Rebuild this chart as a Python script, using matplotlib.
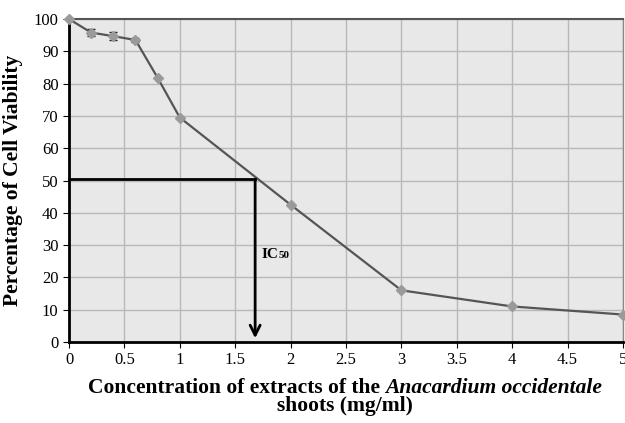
import matplotlib
matplotlib.use('Agg')
import matplotlib.pyplot as plt

conc = [0, 0.2, 0.4, 0.6, 0.8, 1, 2, 3, 4, 5]
viability = [100, 95.8, 94.7, 93.5, 81.8, 69.5, 42.5, 16.0, 11.0, 8.5]
err = [0, 1.0, 1.3, 0.6, 0, 0, 0, 0, 0, 0]
ic50_x = 1.68
ic50_y = 50.5

plt.rcParams['font.family'] = 'Liberation Serif'

fig = plt.figure(figsize=(6.25, 4.23), dpi=100)
ax = fig.add_axes([0.1104, 0.1915, 0.8864, 0.7635])
ax.set_facecolor('#e8e8e8')

ax.errorbar(conc, viability, yerr=err, color='#555555', lw=1.6,
            marker='D', ms=5, mfc='#9a9a9a', mec='#9a9a9a',
            ecolor='#222222', elinewidth=1, capsize=3, zorder=3, clip_on=False)

# IC50 guide
ax.plot([0, ic50_x], [ic50_y, ic50_y], color='black', lw=2, zorder=4, clip_on=False)
ax.annotate('', xy=(ic50_x, 0.3), xytext=(ic50_x, ic50_y + 0.7),
            arrowprops=dict(arrowstyle='->', color='black', lw=2,
                            mutation_scale=18), zorder=4)

ax.set_xlim(0, 5)
ax.set_ylim(0, 100)
ax.set_xticks([0, 0.5, 1, 1.5, 2, 2.5, 3, 3.5, 4, 4.5, 5])
ax.set_xticklabels(['0', '0.5', '1', '1.5', '2', '2.5', '3', '3.5', '4', '4.5', '5'])
ax.set_yticks(range(0, 101, 10))
ax.grid(color='#b8b8b8', lw=1)
ax.set_axisbelow(True)
ax.tick_params(labelsize=12, length=4, direction='out', color='black')

for s in ['left', 'bottom']:
    ax.spines[s].set_linewidth(2)
    ax.spines[s].set_color('black')
ax.spines['top'].set_color('#555555')
ax.spines['top'].set_linewidth(1.5)
ax.spines['right'].set_color('#888888')
ax.spines['right'].set_linewidth(1)

ax.set_ylabel('Percentage of Cell Viability', fontsize=15.5, fontweight='bold', labelpad=8)

fig.canvas.draw()
r = fig.canvas.get_renderer()

# IC50 label with a small subscript
ic = ax.text(ic50_x + 0.06, 26, 'IC', fontsize=11, fontweight='bold', va='baseline')
w_ic = ic.get_window_extent(r).width
x_sub = ax.transData.inverted().transform(
    (ax.transData.transform((ic50_x + 0.06, 0))[0] + w_ic, 0))[0]
ax.text(x_sub, 26, '50', fontsize=8, fontweight='bold', va='baseline')

# x label, line one mixes bold and bold-italic text
t1 = fig.text(0, 0, 'Concentration of extracts of the ', fontsize=15.5, fontweight='bold')
t2 = fig.text(0, 0, 'Anacardium occidentale', fontsize=15.5, fontweight='bold', style='italic')
w1 = t1.get_window_extent(r).width
w2 = t2.get_window_extent(r).width
W = fig.bbox.width
xc = 345 / 625 * W
x0 = xc - (w1 + w2) / 2
y1 = 1 - 388 / 423
t1.set_position((x0 / W, y1))
t2.set_position(((x0 + w1) / W, y1))
t1.set_va('center')
t2.set_va('center')
fig.text(xc / W, 1 - 406 / 423, 'shoots (mg/ml)', fontsize=15.5, fontweight='bold',
         ha='center', va='center')

fig.savefig('out.png', dpi=100)
